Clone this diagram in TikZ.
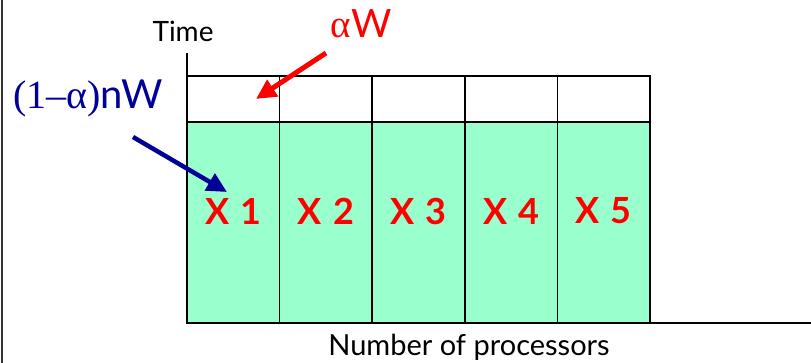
\documentclass[tikz,border=0pt]{standalone}
\usepackage{fontspec}
\setmainfont{Lato}
\newfontfamily\grk{Liberation Serif}
\usetikzlibrary{arrows.meta, positioning}
\definecolor{workgreen}{HTML}{99FFCC}
\definecolor{labelnavy}{HTML}{000099}

\begin{document}
\begin{tikzpicture}[
    x=1pt, y=-1pt,
    cell/.style={draw=black, line width=1.5pt},
    axis/.style={draw=black, line width=1.8pt},
    fatarrow/.style={-{Triangle[length=20pt, width=19pt]}, line width=5pt},
    tag/.style={font=\fontsize{36}{36}\selectfont\bfseries, text=red},
    every node/.style={inner sep=0pt}
]
\useasboundingbox (0,0) rectangle (811,363);

% frame edge
\draw[line width=1.5pt, black!80] (2,0) -- (2,363);

% processors: parallel part and serial part
\foreach \i in {1,...,5}{
    \pgfmathsetmacro{\xl}{187+(\i-1)*92.6}
    \pgfmathsetmacro{\xr}{187+\i*92.6}
    \fill[workgreen] (\xl,122) rectangle (\xr,323);
    \draw[cell] (\xl,76) rectangle (\xr,122);
    \draw[cell] (\xl,122) rectangle (\xr,323);
    \node[tag] (p\i) at ({(\xl+\xr)/2},211) {X\hspace{11pt}\i};
}

% axes
\coordinate (origin) at (187,323);
\coordinate (ytop) at (187,53);
\coordinate (xend) at (811,323);
\draw[axis] (ytop) -- (origin) -- (xend);

% labels
\node[font=\fontsize{28}{28}\selectfont] (time) at (183,31) {Time};
\node[font=\fontsize{29}{29}\selectfont] (nproc) at (469,347) {Number of processors};
\node[font=\fontsize{39}{39}\selectfont, text=red] (serial) at (361,24) {{\grk α}W};
\node[font=\fontsize{40}{40}\selectfont, text=labelnavy] (parallel) at (88,98) {{\grk (1–α)}nW};

% arrows
\coordinate (serialtail) at (326,53);
\coordinate (serialtip) at (256,99);
\coordinate (paralleltail) at (133,137);
\coordinate (paralleltip) at (227,192);
\draw[fatarrow, red] (serialtail) -- (serialtip);
\draw[fatarrow, labelnavy, line width=4.5pt] (paralleltail) -- (paralleltip);

\end{tikzpicture}
\end{document}
